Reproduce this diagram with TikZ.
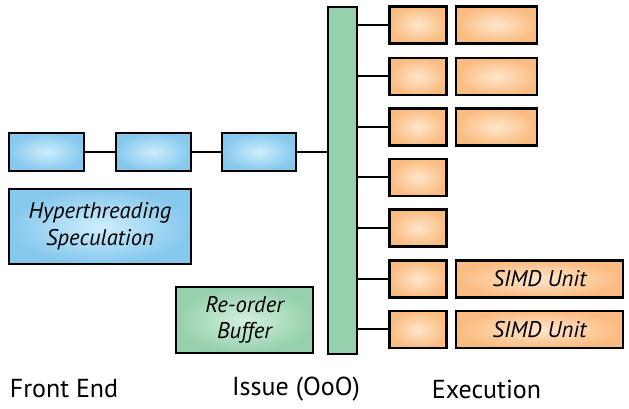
\documentclass[tikz,border=0pt]{standalone}
\usepackage{fontspec}
\setmainfont{PT Sans}
\usepackage{tikz}
\usetikzlibrary{calc}

\definecolor{blueout}{RGB}{135,200,238}
\definecolor{bluein}{RGB}{205,238,252}
\definecolor{greenout}{RGB}{150,208,172}
\definecolor{greenin}{RGB}{210,240,222}
\definecolor{orangeout}{RGB}{250,188,128}
\definecolor{orangein}{RGB}{255,230,205}

\tikzset{
  unit/.style 2 args={rectangle,draw=black,line width=1.7pt,inner sep=0pt,
    minimum width=#1*0.75pt,minimum height=#2*0.75pt},
  bluebox/.style={inner color=bluein,outer color=blueout},
  greenbox/.style={inner color=greenin,outer color=greenout},
  greenbar/.style={left color=greenout,middle color=greenin,right color=greenout},
  orangebox/.style={inner color=orangein,outer color=orangeout},
  boxtext/.style={font=\fontsize{17}{20}\selectfont\itshape,align=center},
  wire/.style={line width=1.5pt},
  stage/.style={font=\fontsize{19.5}{22}\selectfont}
}

\begin{document}
\begin{tikzpicture}[x=0.75pt,y=-0.75pt]
\useasboundingbox (0,0) rectangle (629,409);
			% Front end
\node[unit={75}{38},bluebox] (fe1) at (46.5,152) {};
\node[unit={75}{38},bluebox] (fe2) at (153.5,152) {};
\node[unit={74}{38},bluebox] (fe3) at (259,152) {};
\node[unit={182}{75},bluebox,boxtext] (ht) at (100,226.5) {Hyperthreading\\Speculation};
			% Issue
\node[unit={29}{347},greenbar] (bar) at (342.5,180.5) {};
\node[unit={137}{66},greenbox,boxtext] (rob) at (244.5,320) {Re-order\\Buffer};
\draw [wire] (fe1.east) -- (fe2.west);
\draw [wire] (fe2.east) -- (fe3.west);
\draw [wire] (fe3.east) -- (bar.west |- fe3.east);
			% Execution
\foreach \i/\y in {1/25,2/76.5,3/127,4/177.5,5/228,6/279,7/329.5}{
  \node[unit={57}{37},orangebox] (ex\i) at (418,\y) {};
  \draw [wire] (bar.east |- ex\i.west) -- (ex\i.west);
}
\foreach \i/\y in {1/25,2/76.5,3/127}{
  \node[unit={81}{37},orangebox] (alu\i) at (496.5,\y) {};
}
\node[unit={167}{37},orangebox,boxtext] (simd1) at (539.5,279) {SIMD Unit};
\node[unit={167}{37},orangebox,boxtext] (simd2) at (539.5,329.5) {SIMD Unit};
			% Labels
\node[stage] (lfe) at (64,389) {Front End};
\node[stage] (lis) at (296,389) {Issue (OoO)};
\node[stage] (lex) at (486.5,389) {Execution};
\end{tikzpicture}
\end{document}
